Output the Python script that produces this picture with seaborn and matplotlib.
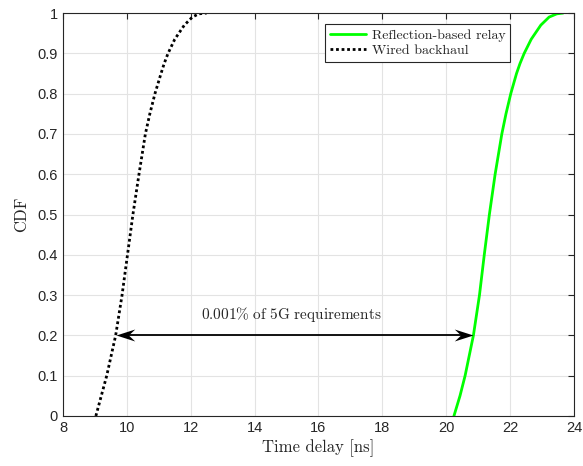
import numpy as np
import pandas as pd
import matplotlib
matplotlib.use("Agg")
import matplotlib.pyplot as plt
from matplotlib.path import Path
from matplotlib.lines import Line2D
import seaborn as sns

# CDF levels and the matching time delays (ns) for each scheme
cdf_levels = [0.0, 0.05, 0.1, 0.2, 0.3, 0.4, 0.5, 0.6, 0.7, 0.75, 0.8, 0.85, 0.875, 0.9, 0.935, 0.97, 0.99, 0.998, 1.0]
relay_delay = [20.24, 20.43, 20.59, 20.85, 21.04, 21.19, 21.35, 21.53, 21.74, 21.87, 22.02, 22.20, 22.31, 22.44, 22.66, 22.96, 23.22, 23.46, 23.66]
wired_delay = [9.03, 9.20, 9.37, 9.65, 9.85, 10.02, 10.19, 10.38, 10.58, 10.72, 10.88, 11.07, 11.17, 11.29, 11.50, 11.80, 12.05, 12.25, 12.50]

series_names = ["Reflection-based relay", "Wired backhaul"]
x_ticks = [8, 10, 12, 14, 16, 18, 20, 22, 24]
y_ticks = [0, 0.1, 0.2, 0.3, 0.4, 0.5, 0.6, 0.7, 0.8, 0.9, 1]
arrow_level = 0.2
arrow_text = "0.001% of 5G requirements"

df = pd.concat([
    pd.DataFrame({"delay": relay_delay, "cdf": cdf_levels, "scheme": series_names[0]}),
    pd.DataFrame({"delay": wired_delay, "cdf": cdf_levels, "scheme": series_names[1]}),
])

sns.set_style("white")
plt.rcParams["mathtext.fontset"] = "cm"
plt.rcParams["axes.unicode_minus"] = False

fig = plt.figure(figsize=(5.83, 4.66), dpi=100)
ax = fig.add_axes([0.108, 0.1073, 0.8766, 0.8647])

sns.lineplot(data=df, x="delay", y="cdf", hue="scheme", style="scheme",
             palette={series_names[0]: "#00ff00", series_names[1]: "black"},
             dashes={series_names[0]: "", series_names[1]: (1, 1)},
             linewidth=2, sort=False, estimator=None, ax=ax, legend=False)

ax.set_xlim(8, 24)
ax.set_ylim(0, 1)
ax.set_xticks(x_ticks)
ax.set_yticks(y_ticks)
ax.set_xticklabels([str(t) for t in x_ticks])
ax.set_yticklabels([("%g" % t) for t in y_ticks])
ax.grid(True, color="#e3e3e3", linewidth=0.8)
ax.set_axisbelow(True)
for s in ax.spines.values():
    s.set_color("#262626")
    s.set_linewidth(0.8)
ax.tick_params(direction="in", top=True, right=True, length=4, width=0.8,
               color="#262626", labelcolor="#262626", labelsize=10.5)
for lab in ax.get_xticklabels() + ax.get_yticklabels():
    lab.set_family("Liberation Sans")

serif = "cmr10"
ax.set_xlabel("Time delay [ns]", family=serif, fontsize=12, labelpad=3)
ax.set_ylabel("CDF", family=serif, fontsize=12, labelpad=6)

# double-headed arrow with swept-back heads spanning the gap between the curves
i_arrow = cdf_levels.index(arrow_level)
x_left, x_right = wired_delay[i_arrow], relay_delay[i_arrow]
head_left = Path([(0, 0), (1, 0.32), (0.66, 0), (1, -0.32), (0, 0)],
                 [Path.MOVETO, Path.LINETO, Path.LINETO, Path.LINETO, Path.CLOSEPOLY])
head_right = Path([(0, 0), (-1, 0.32), (-0.66, 0), (-1, -0.32), (0, 0)],
                  [Path.MOVETO, Path.LINETO, Path.LINETO, Path.LINETO, Path.CLOSEPOLY])
ax.plot([x_left + 0.3, x_right - 0.3], [arrow_level, arrow_level], color="black", lw=1.3, zorder=4)
ax.plot([x_left], [arrow_level], marker=head_left, markersize=27, color="black",
        markeredgewidth=0, zorder=5)
ax.plot([x_right], [arrow_level], marker=head_right, markersize=27, color="black",
        markeredgewidth=0, zorder=5)
ax.text(15.15, 0.253, r"$\mathrm{0.001\%\ of\ 5G\ requirements}$", ha="center", va="center",
        fontsize=11)

handles = [Line2D([], [], color="#00ff00", lw=2),
           Line2D([], [], color="black", lw=2, linestyle=(0, (1, 1)))]
leg = ax.legend(handles, series_names, loc="upper right", bbox_to_anchor=(0.875, 0.973),
                borderaxespad=0, fancybox=False, framealpha=1, edgecolor="#262626",
                prop={"family": serif, "size": 10}, handlelength=2.6, labelspacing=0.2,
                borderpad=0.35, handletextpad=0.4)
leg.get_frame().set_linewidth(0.8)

fig.savefig("out.png", dpi=100)
